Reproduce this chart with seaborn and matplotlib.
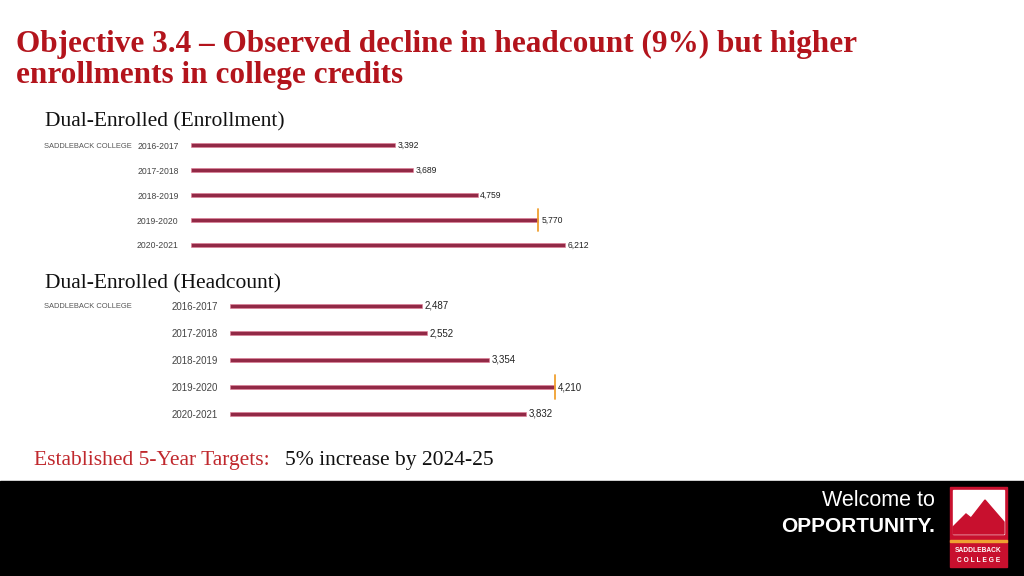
import matplotlib
matplotlib.use("Agg")
import matplotlib.pyplot as plt
import matplotlib.patches as mpatches
import pandas as pd
import seaborn as sns

# ---- data ----
years = ["2016-2017", "2017-2018", "2018-2019", "2019-2020", "2020-2021"]
enrollment = [3392, 3689, 4759, 5770, 6212]
headcount = [2487, 2552, 3354, 4210, 3832]
# orange marker sits on the 2019-2020 bar in both panels
marker_year = "2019-2020"

BAR = "#a3173f"
TXT = "#444444"
W, H = 1024, 576

sns.set_theme(style="white")
plt.rcParams["font.family"] = ["Liberation Sans", "DejaVu Sans"]
serif = ["Liberation Serif", "DejaVu Serif"]

fig = plt.figure(figsize=(W / 100, H / 100), dpi=100)
fig.patch.set_facecolor("white")


def px_axes(x0, y_top, w, h):
    return fig.add_axes([x0 / W, 1 - (y_top + h) / H, w / W, h / H])


def panel(x0, row0, step, scale, values, title, title_y, lab_size):
    # row centres at row0 + i*step; scale = pixels per unit
    h = step * len(years)
    w = 420
    ax = px_axes(x0, row0 - step / 2, w, h)
    df = pd.DataFrame({"year": years, "value": values})
    sns.barplot(data=df, x="value", y="year", orient="h", width=0.13,
                color=BAR, edgecolor="#e27a95", linewidth=0.4, ax=ax)
    ax.set_xlim(0, w / scale)
    ax.set_ylim(len(years) - 0.5, -0.5)
    for s in ax.spines.values():
        s.set_visible(False)
    ax.set_xticks([])
    ax.set_xlabel("")
    ax.set_ylabel("")
    ax.tick_params(axis="y", length=0, pad=9, labelsize=lab_size, labelcolor=TXT)
    for i, v in enumerate(values):
        ax.annotate(f"{v:,}", (v, i), xytext=(2, 0), textcoords="offset points",
                    va="center", ha="left", fontsize=lab_size, color="#222222")
        if years[i] == marker_year:
            ax.plot([v, v], [i - 0.45, i + 0.45], color="#f0a030", lw=1.3)
    fig.text(44 / W, 1 - (row0 + 1) / H, "SADDLEBACK COLLEGE", fontsize=5.4,
             color="#555555", va="center", ha="left")
    fig.text(45 / W, 1 - title_y / H, title, fontsize=15.5, color="#111111",
             family=serif, va="center", ha="left")
    return ax


panel(191, 145, 25, (565 - 191) / 6212, enrollment,
      "Dual-Enrolled (Enrollment)", 122, 6.2)
panel(230, 306, 27, (555 - 230) / 4210, headcount,
      "Dual-Enrolled (Headcount)", 284, 7.0)

# ---- slide title ----
fig.text(16 / W, 1 - 44 / H,
         "Objective 3.4 \u2013 Observed decline in headcount (9%) but higher",
         fontsize=22.5, fontweight="bold", color="#b3141c", family=serif,
         va="center", ha="left")
fig.text(16 / W, 1 - 76 / H, "enrollments in college credits",
         fontsize=22.5, fontweight="bold", color="#b3141c", family=serif,
         va="center", ha="left")

# ---- targets line ----
fig.text(34 / W, 1 - 461 / H, "Established 5-Year Targets:", fontsize=15.5,
         color="#c0282d", family=serif, va="center", ha="left")
fig.text(285 / W, 1 - 461 / H, "5% increase by 2024-25", fontsize=15.5,
         color="#111111", family=serif, va="center", ha="left")

# ---- footer band and logo ----
fig.patches.append(mpatches.Rectangle((0, 0), 1, 95 / H, transform=fig.transFigure,
                                      color="black", zorder=0))
fig.text(935 / W, 1 - 501 / H, "Welcome to", fontsize=15.5, color="white",
         ha="right", va="center")
fig.text(935 / W, 1 - 527 / H, "OPPORTUNITY.", fontsize=15, color="white",
         fontweight="bold", ha="right", va="center")


def fbox(x, y, w, h, color, z=1):
    fig.patches.append(mpatches.Rectangle((x / W, 1 - (y + h) / H), w / W, h / H,
                                          transform=fig.transFigure, color=color,
                                          zorder=z))


fbox(950, 487, 57, 80, "#c8102e")
fbox(953, 490, 51, 44, "white", 2)
mountain = [(953, 534), (953, 527), (966, 514), (971, 518), (985, 500),
            (1004, 522), (1004, 534)]
fig.patches.append(mpatches.Polygon([(x / W, 1 - y / H) for x, y in mountain],
                                    closed=True, transform=fig.transFigure,
                                    color="#c8102e", zorder=3))
fbox(950, 540, 57, 1.5, "#f0a030", 3)
fig.text(978.5 / W, 1 - 550 / H, "SADDLEBACK", fontsize=4.8, color="white",
         fontweight="bold", ha="center", va="center")
fig.text(978.5 / W, 1 - 561 / H, "C O L L E G E", fontsize=4.8, color="white",
         fontweight="bold", ha="center", va="center")

fig.savefig("out.png", dpi=100)
